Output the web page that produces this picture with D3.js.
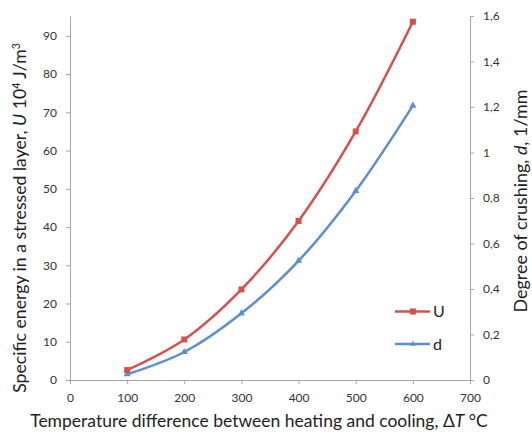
<!DOCTYPE html>
<html><head><meta charset="utf-8">
<script src="https://cdn.jsdelivr.net/npm/d3@7"></script>
<style>
body{margin:0;background:#fff;}
svg{font-family:Lato,"Open Sans",sans-serif;}
</style></head>
<body>
<svg id="c" width="532" height="433"></svg>
<script>
const temps = [100, 200, 300, 400, 500, 600];
const uValues = [2.6, 10.6, 23.7, 41.6, 65.0, 93.7];
const dValues = [0.025, 0.123, 0.293, 0.524, 0.831, 1.206];
const xTicks = [0, 100, 200, 300, 400, 500, 600, 700];
const leftTicks = [0, 10, 20, 30, 40, 50, 60, 70, 80, 90];
const rightTicks = [0, 0.2, 0.4, 0.6, 0.8, 1, 1.2, 1.4, 1.6];
const seriesNames = ["U", "d"];

const svg = d3.select("#c");
const x = d3.scaleLinear().domain([0, 700]).range([70, 470]);
const yL = d3.scaleLinear().domain([0, 95.2]).range([380, 16]);
const yR = d3.scaleLinear().domain([0, 1.6]).range([380, 16]);
const axisColor = "#a6a6a6";
const red = "#d6504c", blue = "#5a8fd6";

function styleAxis(g){
  g.selectAll(".domain").attr("stroke", axisColor);
  g.selectAll(".tick line").attr("stroke", axisColor);
  g.selectAll(".tick text").attr("fill", "#333").attr("font-size", 12).attr("font-family","Lato,sans-serif");
}
svg.append("g").attr("transform","translate(0,380)")
  .call(d3.axisBottom(x).tickValues(xTicks).tickSize(4).tickSizeOuter(0).tickPadding(9))
  .call(styleAxis);
svg.append("g").attr("transform","translate(70,0)")
  .call(d3.axisLeft(yL).tickValues(leftTicks).tickSize(4).tickSizeOuter(0).tickPadding(9))
  .call(styleAxis);
const fmt = v => String(v).replace(".", ",");
svg.append("g").attr("transform","translate(470,0)")
  .call(d3.axisRight(yR).tickValues(rightTicks).tickFormat(fmt).tickSize(4).tickSizeOuter(0).tickPadding(9))
  .call(styleAxis);

const line = (ys, sc) => d3.line().curve(d3.curveCatmullRom.alpha(0.5))
  .x((d,i)=>x(temps[i])).y(d=>sc(d))(ys);

svg.append("path").attr("d", line(dValues, yR)).attr("fill","none").attr("stroke",blue).attr("stroke-width",2.5);
svg.append("path").attr("d", line(uValues, yL)).attr("fill","none").attr("stroke",red).attr("stroke-width",2.5);

const tri = d3.symbol().type(d3.symbolTriangle).size(22);
svg.selectAll(".dm").data(dValues).join("path").attr("class","dm")
  .attr("d", tri).attr("transform",(d,i)=>`translate(${x(temps[i])},${yR(d)})`).attr("fill",blue);
svg.selectAll(".um").data(uValues).join("rect").attr("class","um")
  .attr("x",(d,i)=>x(temps[i])-3).attr("y",d=>yL(d)-3).attr("width",6).attr("height",6).attr("fill",red);

// legend
const leg = svg.append("g");
[[red, 311.5],[blue, 344]].forEach(([c,yy],i)=>{
  leg.append("line").attr("x1",395).attr("x2",430).attr("y1",yy).attr("y2",yy).attr("stroke",c).attr("stroke-width",2.5);
  if(i===0) leg.append("rect").attr("x",410).attr("y",yy-3).attr("width",6).attr("height",6).attr("fill",c);
  else leg.append("path").attr("d",d3.symbol().type(d3.symbolTriangle).size(14)).attr("transform",`translate(413,${yy})`).attr("fill",c);
  leg.append("text").attr("x",433).attr("y",yy+5.5).attr("font-size",16).attr("fill","#222").text(seriesNames[i]);
});

// titles
function fit(t, w){ const L=t.node().getComputedTextLength(); const fs=+t.attr("font-size"); t.attr("font-size", fs*w/L); }
const xt = svg.append("text").attr("x",259).attr("y",427).attr("text-anchor","middle").attr("font-size",16).attr("fill","#222");
xt.append("tspan").text("Temperature difference between heating and cooling, Δ");
xt.append("tspan").attr("font-style","italic").text("T");
xt.append("tspan").text(" °C");
fit(xt, 458);

const lt = svg.append("text").attr("transform","translate(26,218) rotate(-90)").attr("text-anchor","middle").attr("font-size",16).attr("fill","#222");
lt.append("tspan").text("Specific energy in a stressed layer, ");
lt.append("tspan").attr("font-style","italic").text("U");
lt.append("tspan").text(" 10");
lt.append("tspan").attr("font-size","0.6em").attr("dy","-0.6em").text("4");
lt.append("tspan").attr("dy","0.37em").text(" J/m");
lt.append("tspan").attr("font-size","0.6em").attr("dy","-0.6em").text("3");
fit(lt, 350);

const rt = svg.append("text").attr("transform","translate(527,201) rotate(-90)").attr("text-anchor","middle").attr("font-size",16).attr("fill","#222");
rt.append("tspan").text("Degree of crushing, ");
rt.append("tspan").attr("font-style","italic").text("d");
rt.append("tspan").text(", 1/mm");
fit(rt, 223);
</script>
</body></html>
